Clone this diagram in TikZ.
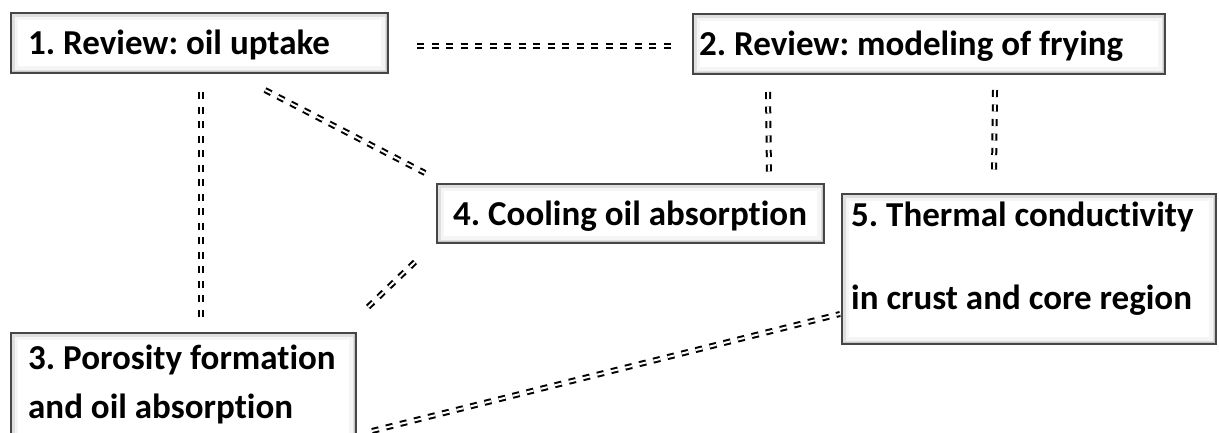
\documentclass[tikz,border=0pt]{standalone}
\usepackage{fontspec}
\setmainfont{Carlito}[Ligatures={NoCommon}]
\usepackage{tikz}

\begin{document}
\frenchspacing
\begin{tikzpicture}[x=1pt, y=-1pt,
  box/.style={draw=gray!55!black, line width=2pt, fill=white, inner sep=0pt, anchor=north west,
    path picture={
      \draw[gray!8, line width=14pt] (path picture bounding box.south west) rectangle (path picture bounding box.north east);
      \draw[gray!25, line width=7pt] (path picture bounding box.south west) rectangle (path picture bounding box.north east);
      \draw[gray!45, line width=5pt] (path picture bounding box.north east) -- (path picture bounding box.south east) -- (path picture bounding box.south west);}},
  lbl/.style={anchor=base west, inner sep=0pt, font=\fontsize{35}{42}\selectfont\bfseries},
  link/.style={draw=black, line width=2pt, double=white, double distance=2pt, dash pattern=on 7pt off 7.5pt}]
  \clip (0,0) rectangle (1219,432);
  \node[box, minimum width=377pt, minimum height=60pt] (b1) at (10,12) {};
  \node[box, minimum width=472pt, minimum height=60pt] (b2) at (692,13) {};
  \node[box, minimum width=345pt, minimum height=113pt] (b3) at (10,332) {};
  \node[box, minimum width=387pt, minimum height=59pt] (b4) at (436,183) {};
  \node[box, minimum width=374pt, minimum height=150pt] (b5) at (841,193) {};
  \node[lbl] (t1) at (28,54) {1. Review: oil uptake};
  \node[lbl] (t2) at (699,55) {2. Review: modeling of frying};
  \node[lbl] (t3a) at (28,369) {3. Porosity formation};
  \node[lbl] (t3b) at (28,418) {and oil absorption};
  \node[lbl] (t4) at (453,225) {4. Cooling oil absorption};
  \node[lbl] (t5a) at (851,226) {5. Thermal conductivity};
  \node[lbl] (t5b) at (851,309) {in crust and core region};
  % loose ends of the links
  \coordinate (p1) at ([xshift=28pt,yshift=-3pt]b1.east);
  \coordinate (q1) at ([xshift=-20pt,yshift=-2pt]b2.west);
  \coordinate (p2) at ([xshift=1.5pt,yshift=-18pt]b1.south);
  \coordinate (q2) at ([xshift=17.5pt,yshift=14pt]b3.north);
  \coordinate (p3) at ([xshift=-124pt,yshift=-16pt]b1.south east);
  \coordinate (q3) at ([xshift=-11pt,yshift=10pt]b4.north west);
  \coordinate (p4) at ([xshift=-21pt,yshift=-18pt]b4.south west);
  \coordinate (q4) at ([xshift=8pt,yshift=22pt]b3.north east);
  \coordinate (p5) at ([xshift=76pt,yshift=-17pt]b2.south west);
  \coordinate (q5) at ([xshift=138.5pt,yshift=9pt]b4.north);
  \coordinate (p6) at ([xshift=-171pt,yshift=-15pt]b2.south east);
  \coordinate (q6) at ([xshift=-35pt,yshift=20pt]b5.north);
  \coordinate (p7) at ([xshift=15pt,yshift=-41.5pt]b3.east);
  \coordinate (q7) at ([xshift=-1pt,yshift=-45pt]b5.west);
  \foreach \a/\b in {p1/q1,p2/q2,p3/q3,p4/q4,p5/q5,p6/q6,p7/q7}
  {
    \draw[link] (\a) -- (\b);
  }
\end{tikzpicture}
\end{document}
